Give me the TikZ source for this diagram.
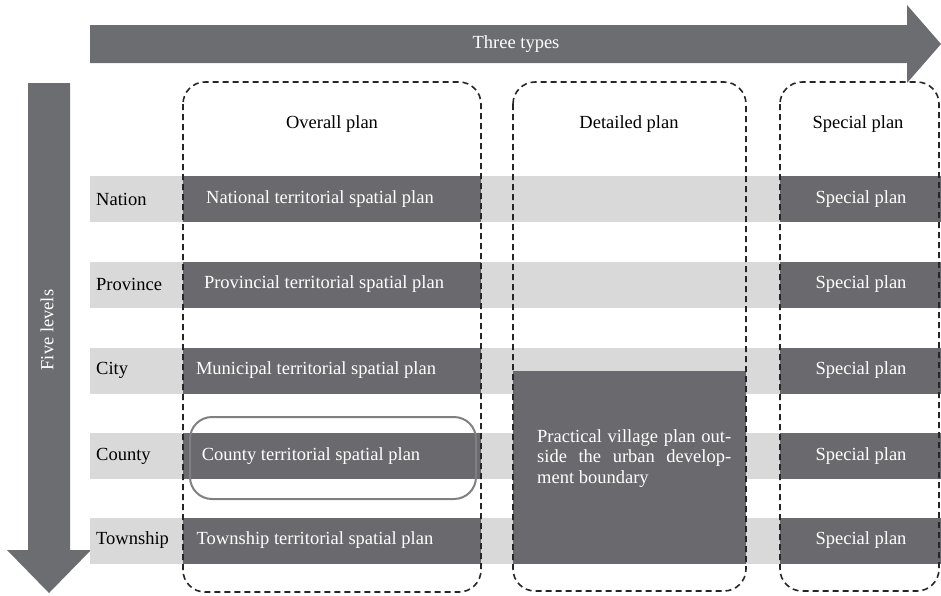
\documentclass[tikz,border=0pt]{standalone}
\usepackage{fontspec}
\setmainfont{Liberation Serif}
\definecolor{arrowgray}{RGB}{108,109,113}
\definecolor{bargray}{RGB}{106,106,110}
\definecolor{bandgray}{RGB}{217,217,217}
\definecolor{ringgray}{RGB}{128,128,128}
\tikzset{
  band/.style={fill=bandgray, draw=none, inner sep=0pt, minimum width=851pt, minimum height=46pt},
  darkbar/.style={fill=bargray, draw=none, inner sep=0pt, minimum height=46pt},
  whitetext/.style={text=white, inner sep=0pt},
  blacktext/.style={text=black, inner sep=0pt},
  dashbox/.style={draw=black!85, line width=1.6pt, dash pattern=on 6pt off 4pt, rounded corners=22pt},
  ring/.style={draw=ringgray, line width=2pt, rounded corners=22pt},
  bigarrow/.style={fill=arrowgray, draw=none}
}
\begin{document}
\begin{tikzpicture}[x=1pt,y=-1pt, font=\fontsize{18.5}{20.5}\selectfont]
\useasboundingbox (0,0) rectangle (941,595);
% arrows
\fill[bigarrow] (90,25) -- (907,25) -- (907,5) -- (941,44) -- (907,83) -- (907,63) -- (90,63) -- cycle;
\node[whitetext] (types) at (516,44) {Three types};
\fill[bigarrow] (28,83) -- (70,83) -- (70,550) -- (91,550) -- (49,593) -- (7,550) -- (28,550) -- cycle;
\node[whitetext, rotate=90] (levels) at (47,330) {Five levels};
% bands
\node[band] (bandN) at (515.5,199) {};
\node[band] (bandP) at (515.5,284.5) {};
\node[band] (bandC) at (515.5,370.5) {};
\node[band] (bandK) at (515.5,456) {};
\node[band] (bandT) at (515.5,540.5) {};
% overall plan bars
\node[darkbar, minimum width=298pt] (barN) at (332,199) {};
\node[darkbar, minimum width=298pt] (barP) at (332,284.5) {};
\node[darkbar, minimum width=298pt] (barC) at (332,370.5) {};
\node[darkbar, minimum width=298pt] (barK) at (332,456) {};
\node[darkbar, minimum width=298pt] (barT) at (332,540.5) {};
% special plan bars
\node[darkbar, minimum width=161pt] (spN) at (860.5,199) {};
\node[darkbar, minimum width=161pt] (spP) at (860.5,284.5) {};
\node[darkbar, minimum width=161pt] (spC) at (860.5,370.5) {};
\node[darkbar, minimum width=161pt] (spK) at (860.5,456) {};
\node[darkbar, minimum width=161pt] (spT) at (860.5,540.5) {};
% detailed plan box
\fill[bargray] (513,371) rectangle (746,564);
\node[whitetext, anchor=north west, text width=194pt, align=justify] (village) at (537,429)
  {Practical village plan out-\linebreak side the urban develop-\linebreak ment boundary};
% dashed columns
\draw[dashbox] (183,82) rectangle (481,592);
\draw[dashbox] (513,82) rectangle (746,591);
\draw[dashbox] (780,82) rectangle (939,591);
% county ring
\draw[ring] (190,417) rectangle (476,499);
% headers
\node[blacktext] (hOverall) at (332,124) {Overall plan};
\node[blacktext] (hDetailed) at (629,124) {Detailed plan};
\node[blacktext] (hSpecial) at (858,124) {Special plan};
% row labels
\node[blacktext, anchor=west] (lN) at (96,199) {Nation};
\node[blacktext, anchor=west] (lP) at (96,284.5) {Province};
\node[blacktext, anchor=west] (lC) at (96,370.5) {City};
\node[blacktext, anchor=west] (lK) at (96,456) {County};
\node[blacktext, anchor=west] (lT) at (96,540.5) {Township};
% overall plan texts
\node[whitetext] (tN) at (320,199) {National territorial spatial plan};
\node[whitetext] (tP) at (324,284.5) {Provincial territorial spatial plan};
\node[whitetext] (tC) at (316,370.5) {Municipal territorial spatial plan};
\node[whitetext] (tK) at (311,456) {County territorial spatial plan};
\node[whitetext] (tT) at (315,540.5) {Township territorial spatial plan};
% special plan texts
\node[whitetext] (sN) at (861,199) {Special plan};
\node[whitetext] (sP) at (861,284.5) {Special plan};
\node[whitetext] (sC) at (861,370.5) {Special plan};
\node[whitetext] (sK) at (861,456) {Special plan};
\node[whitetext] (sT) at (861,540.5) {Special plan};
\end{tikzpicture}
\end{document}
